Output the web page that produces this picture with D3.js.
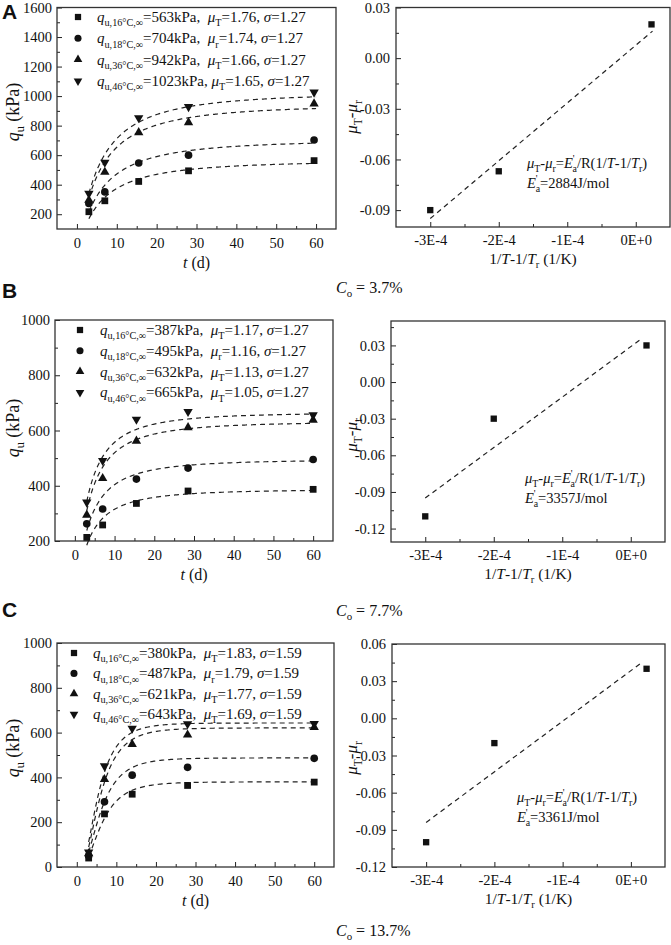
<!DOCTYPE html>
<html lang="en">
<head>
<meta charset="UTF-8">
<title>Unconfined compressive strength vs curing time</title>
<script src="https://d3js.org/d3.v7.min.js"></script>
<style>
  body { margin: 0; background: #fff; }
  svg { display: block; font-family: "Liberation Serif", "Times New Roman", serif; }
  text { white-space: pre; fill: #111; }
</style>
</head>
<body>
<div id="chart"></div>
<script>
const width = 671;
const height = 945;

const temps = ["16°C", "18°C", "36°C", "46°C"];
const muSub = ["T", "r", "T", "T"];        // 18°C is the reference temperature

// panel A, Co = 3.7%
const tA = [3, 7, 15.5, 28, 59.5];
const qA16 = [217, 291, 422, 494, 563];
const qA18 = [273, 351, 547, 600, 703];
const qA36 = [296, 485, 754, 821, 948];
const qA46 = [340, 551, 852, 928, 1026];
const qInfA = [563, 704, 942, 1023];
const muA = [1.76, 1.74, 1.66, 1.65];
const sigmaA = 1.27;
const dxA = [-3.0e-4, -2.0e-4, 0.23e-4];
const dMuA = [-0.09, -0.067, 0.02];
const fitXA = [-3.0e-4, 0.245e-4];
const fitYA = [-0.095, 0.016];
const EaA = 2884;

// panel B, Co = 7.7%
const tB = [3, 7, 15.5, 28.5, 60];
const qB16 = [213, 258, 336, 381, 387];
const qB18 = [262, 316, 424, 464, 495];
const qB36 = [294, 427, 562, 611, 638];
const qB46 = [340, 491, 640, 668, 656];
const qInfB = [387, 495, 632, 665];
const muB = [1.17, 1.16, 1.13, 1.05];
const sigmaB = 1.27;
const dxB = [-3.0e-4, -2.0e-4, 0.23e-4];
const dMuB = [-0.11, -0.03, 0.03];
const fitXB = [-3.0e-4, 0.17e-4];
const fitYB = [-0.095, 0.036];
const EaB = 3357;

// panel C, Co = 13.7%
const tC = [3, 7, 14, 28, 60];
const qC16 = [40, 237, 325, 364, 379];
const qC18 = [50, 291, 410, 445, 485];
const qC36 = [60, 391, 548, 590, 624];
const qC46 = [66, 451, 619, 639, 640];
const qInfC = [380, 487, 621, 643];
const muC = [1.83, 1.79, 1.77, 1.69];
const sigmaC = 1.59;
const dxC = [-3.0e-4, -2.0e-4, 0.23e-4];
const dMuC = [-0.10, -0.02, 0.04];
const fitXC = [-3.0e-4, 0.16e-4];
const fitYC = [-0.084, 0.045];
const EaC = 3361;

const coLabels = ["3.7%", "7.7%", "13.7%"];
const dTickVals = [-3e-4, -2e-4, -1e-4, 0];
const dTickLabels = ["-3E-4", "-2E-4", "-1E-4", "0E+0"];
const dMinorVals = [-2.5e-4, -1.5e-4, -0.5e-4];
const tTicks = [0, 10, 20, 30, 40, 50, 60];

const panels = [
  { letter: "A", co: coLabels[0], t: tA, q: [qA16, qA18, qA36, qA46], qInf: qInfA, mu: muA, sigma: sigmaA,
    curveSigma: sigmaA, dx: dxA, dMu: dMuA, fitX: fitXA, fitY: fitYA, Ea: EaA,
    yL: [100, 1600], yLTicks: d3.range(200, 1601, 200), yLMinor: d3.range(300, 1600, 200),
    yR: [-0.10, 0.03], yRTicks: [-0.09, -0.06, -0.03, 0, 0.03], yRMinor: [-0.075, -0.045, -0.015, 0.015],
    L: { x0: 57, x1: 336, y0: 7.5, y1: 229 }, R: { x0: 396, x1: 670, y0: 7.5, y1: 227 },
    legend: { mx: 78, tx: 97, y: 17, dy: 21.3 }, note: { x: 527, y: 168 },
    letterY: 19, coY: 293, lTitleY: 112, rTitleY: 117 },
  { letter: "B", co: coLabels[1], t: tB, q: [qB16, qB18, qB36, qB46], qInf: qInfB, mu: muB, sigma: sigmaB,
    curveSigma: sigmaB, dx: dxB, dMu: dMuB, fitX: fitXB, fitY: fitYB, Ea: EaB,
    yL: [200, 1000], yLTicks: d3.range(200, 1001, 200), yLMinor: d3.range(300, 1000, 200),
    yR: [-0.131, 0.05], yRTicks: [-0.12, -0.09, -0.06, -0.03, 0, 0.03], yRMinor: [-0.105, -0.075, -0.045, -0.015, 0.015, 0.045],
    L: { x0: 55, x1: 333, y0: 320, y1: 541 }, R: { x0: 391, x1: 665, y0: 321, y1: 542 },
    legend: { mx: 80, tx: 100, y: 330, dy: 20.8 }, note: { x: 525, y: 483 },
    letterY: 298, coY: 616, lTitleY: 428, rTitleY: 435 },
  // the drawn C curves follow 1/sigma as the log-normal spread
  { letter: "C", co: coLabels[2], t: tC, q: [qC16, qC18, qC36, qC46], qInf: qInfC, mu: muC, sigma: sigmaC,
    curveSigma: 1 / sigmaC, dx: dxC, dMu: dMuC, fitX: fitXC, fitY: fitYC, Ea: EaC,
    yL: [0, 1000], yLTicks: d3.range(0, 1001, 200), yLMinor: d3.range(100, 1000, 200),
    yR: [-0.12, 0.06], yRTicks: [-0.12, -0.09, -0.06, -0.03, 0, 0.03, 0.06], yRMinor: [-0.105, -0.075, -0.045, -0.015, 0.015, 0.045],
    L: { x0: 57, x1: 334, y0: 643, y1: 867 }, R: { x0: 392, x1: 665, y0: 644, y1: 867 },
    legend: { mx: 74, tx: 93, y: 653, dy: 20.4 }, note: { x: 517, y: 802 },
    letterY: 617, coY: 936, lTitleY: 748, rTitleY: 758 }
];

const symbols = [d3.symbolSquare, d3.symbolCircle, d3.symbolTriangle, d3.symbolTriangle];
const symSize = [46, 46, 38, 38];
const symRot = [0, 0, 0, 180];

// normal CDF (Abramowitz-Stegun erf)
function erf(x) {
  const s = x < 0 ? -1 : 1;
  x = Math.abs(x);
  const t = 1 / (1 + 0.3275911 * x);
  const y = 1 - (((((1.061405429 * t - 1.453152027) * t) + 1.421413741) * t - 0.284496736) * t + 0.254829592) * t * Math.exp(-x * x);
  return s * y;
}
const phi = z => 0.5 * (1 + erf(z / Math.SQRT2));

// helpers for text with italics / sub / superscripts
const N = t => ({ t });
const I = t => ({ t, i: true });
const S = (t, dx) => ({ t, sub: true, dx });
const P = t => ({ t, sup: true });

function rich(g, x, y, parts, size, opts = {}) {
  const txt = g.append("text").attr("x", x).attr("y", y).attr("font-size", size);
  if (opts.anchor) txt.attr("text-anchor", opts.anchor);
  if (opts.rotate) txt.attr("transform", `rotate(-90,${x},${y})`);
  let shift = 0;
  parts.forEach(p => {
    const target = p.sub ? size * 0.28 : p.sup ? -size * 0.38 : 0;
    const ts = txt.append("tspan").attr("dy", target - shift).text(p.t);
    if (p.sub || p.sup) ts.attr("font-size", size * 0.68);
    if (p.i) ts.attr("font-style", "italic");
    if (p.dx) ts.attr("dx", p.dx);
    shift = target;
  });
  return txt;
}

const svg = d3.select("#chart").append("svg")
  .attr("width", width).attr("height", height);

function drawAxes(g, box, x, y, xTicks, xMinor, xFmt, yTicks, yMinor, yFmt, xPad, yPad) {
  const bottom = g.append("g").attr("transform", `translate(0,${box.y1})`);
  bottom.append("g").call(d3.axisBottom(x).tickValues(xMinor).tickSize(-3).tickFormat(""));
  bottom.append("g").call(d3.axisBottom(x).tickValues(xTicks).tickSize(-5).tickPadding(xPad).tickFormat(xFmt));
  const left = g.append("g").attr("transform", `translate(${box.x0},0)`);
  left.append("g").call(d3.axisLeft(y).tickValues(yMinor).tickSize(-3).tickFormat(""));
  left.append("g").call(d3.axisLeft(y).tickValues(yTicks).tickSize(-5).tickPadding(yPad).tickFormat(yFmt));
  g.selectAll(".domain").remove();
  g.selectAll(".tick line").attr("stroke", "#222").attr("stroke-width", 1);
  g.selectAll(".tick text").attr("font-size", 14.5)
    .style("font-family", "'Liberation Serif', 'Times New Roman', serif").attr("fill", "#111");
  g.append("rect").attr("x", box.x0).attr("y", box.y0)
    .attr("width", box.x1 - box.x0).attr("height", box.y1 - box.y0)
    .attr("fill", "none").attr("stroke", "#333").attr("stroke-width", 1.3);
}

panels.forEach(p => {
  // ---------- left: q_u vs t ----------
  const gl = svg.append("g");
  const x = d3.scaleLinear().domain([-5, 65]).range([p.L.x0, p.L.x1]);
  const y = d3.scaleLinear().domain(p.yL).range([p.L.y1, p.L.y0]);
  drawAxes(gl, p.L, x, y, tTicks, d3.range(5, 61, 10), d3.format("d"),
    p.yLTicks, p.yLMinor, d3.format("d"), 9, 5);

  const line = d3.line().x(d => x(d[0])).y(d => y(d[1]));
  const tt = d3.range(3, 60.001, 0.25);
  p.qInf.forEach((qi, k) => {
    const curve = tt.map(t => [t, qi * phi((Math.log(t) - p.mu[k]) / p.curveSigma)]);
    gl.append("path").attr("d", line(curve)).attr("fill", "none")
      .attr("stroke", "#222").attr("stroke-width", 1.2).attr("stroke-dasharray", "5,4");
  });
  p.q.forEach((series, k) => {
    gl.selectAll(null).data(series).enter().append("path")
      .attr("d", d3.symbol(symbols[k], symSize[k]))
      .attr("transform", (d, i) => `translate(${x(p.t[i])},${y(d)}) rotate(${symRot[k]})`)
      .attr("fill", "#111");
  });

  // legend
  p.qInf.forEach((qi, k) => {
    const cy = p.legend.y + k * p.legend.dy;
    gl.append("path").attr("d", d3.symbol(symbols[k], symSize[k] * 0.85))
      .attr("transform", `translate(${p.legend.mx},${cy}) rotate(${symRot[k]})`).attr("fill", "#111");
    const gap = String(qi).length > 3 ? " " : "  ";
    rich(gl, p.legend.tx, cy + 5, [
      I("q"), S(`u,${temps[k]},∞`), N(`=${qi}kPa,${gap}`),
      I("μ"), S(muSub[k]), N(`=${p.mu[k].toFixed(2)}, `), I("σ"), N(`=${p.sigma.toFixed(2)}`)
    ], 15);
  });

  rich(gl, 19, p.lTitleY, [I("q"), S("u"), N(" (kPa)")], 18, { anchor: "middle", rotate: true });
  rich(gl, (p.L.x0 + p.L.x1) / 2, p.L.y1 + 39, [I("t"), N(" (d)")], 16, { anchor: "middle" });

  // ---------- right: mu_T - mu_r vs 1/T - 1/Tr ----------
  const gr = svg.append("g");
  const xr = d3.scaleLinear().domain([-3.5e-4, 0.5e-4]).range([p.R.x0, p.R.x1]);
  const yr = d3.scaleLinear().domain(p.yR).range([p.R.y1, p.R.y0]);
  drawAxes(gr, p.R, xr, yr, dTickVals, dMinorVals, (d, i) => dTickLabels[i],
    p.yRTicks, p.yRMinor, d => d.toFixed(2), 8, 6);

  gr.append("path")
    .attr("d", d3.line().x(d => xr(d[0])).y(d => yr(d[1]))(p.fitX.map((v, i) => [v, p.fitY[i]])))
    .attr("fill", "none").attr("stroke", "#222").attr("stroke-width", 1.2).attr("stroke-dasharray", "5,4");
  gr.selectAll(null).data(p.dMu).enter().append("path")
    .attr("d", d3.symbol(d3.symbolSquare, 40))
    .attr("transform", (d, i) => `translate(${xr(p.dx[i])},${yr(d)})`)
    .attr("fill", "#111");

  rich(gr, p.note.x, p.note.y, [
    I("μ"), S("T"), N("-"), I("μ"), S("r"), N("="), I("E"), P("'"), S("a", -2),
    N("/R(1/"), I("T"), N("-1/"), I("T"), S("r"), N(")")
  ], 14.5);
  rich(gr, p.note.x, p.note.y + 20, [I("E"), P("'"), S("a", -2), N(`=${p.Ea}J/mol`)], 14.5);

  rich(gr, 357, p.rTitleY, [I("μ"), S("T"), N("-"), I("μ"), S("r")], 17, { anchor: "middle", rotate: true });
  rich(gr, (p.R.x0 + p.R.x1) / 2, p.R.y1 + 37, [N("1/"), I("T"), N("-1/"), I("T"), S("r"), N(" (1/K)")], 15.5, { anchor: "middle" });

  // panel letter and content label
  svg.append("text").attr("x", 2).attr("y", p.letterY)
    .attr("font-family", "Liberation Sans, Arial, sans-serif").attr("font-weight", "bold")
    .attr("font-size", 21).text(p.letter);
  rich(svg, 336, p.coY, [I("C"), S("o"), N(` = ${p.co}`)], 16);
});
</script>
</body>
</html>
